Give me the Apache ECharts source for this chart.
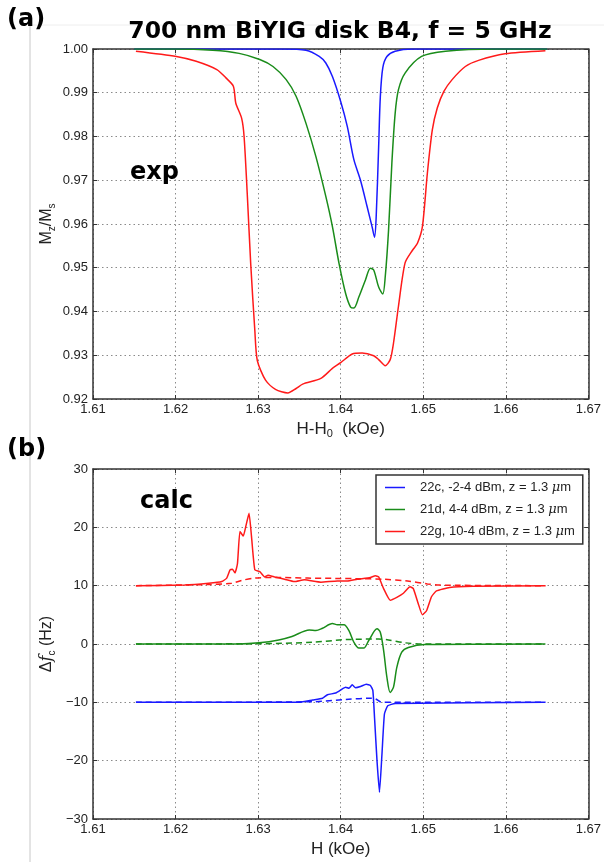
<!DOCTYPE html>
<html>
<head>
<meta charset="utf-8">
<script src="https://cdn.jsdelivr.net/npm/echarts@6/dist/echarts.min.js"></script>
<style>html,body{margin:0;padding:0;background:#fff;}#c{width:604px;height:862px;}</style>
</head>
<body>
<div id="c"></div>
<script>
// ---------- axis ticks ----------
const xTicks = [1.61, 1.62, 1.63, 1.64, 1.65, 1.66, 1.67];
const yTicksTop = [0.92, 0.93, 0.94, 0.95, 0.96, 0.97, 0.98, 0.99, 1.00];
const yTicksBottom = [-30, -20, -10, 0, 10, 20, 30];

// ---------- (a) experiment: [H-H0 (kOe), Mz/Ms] ----------
const expBlue = [[1.615,1.0],[1.630,1.0],[1.633,1.0],[1.6358,0.9997],[1.6374,0.9983],[1.6382,0.9968],[1.639,0.9937],[1.640,0.988],[1.6408,0.9823],[1.6416,0.9747],[1.6424,0.970],[1.6432,0.964],[1.6438,0.9594],[1.6441,0.957],[1.6443,0.9616],[1.6446,0.9777],[1.6448,0.989],[1.6451,0.9957],[1.6456,0.9983],[1.6466,0.9995],[1.6487,1.0],[1.665,1.0]];
const expGreen = [[1.615,1.0],[1.620,1.0],[1.6245,0.9997],[1.6277,0.999],[1.6302,0.9976],[1.6318,0.996],[1.6334,0.993],[1.6346,0.9892],[1.6358,0.983],[1.637,0.9754],[1.6382,0.9663],[1.639,0.9594],[1.6398,0.951],[1.6406,0.9441],[1.6412,0.941],[1.6416,0.9408],[1.6422,0.9433],[1.643,0.9472],[1.6436,0.9499],[1.644,0.9495],[1.6446,0.9456],[1.6451,0.944],[1.6454,0.948],[1.6458,0.9586],[1.6462,0.9739],[1.6466,0.9853],[1.647,0.9907],[1.6478,0.9945],[1.6498,0.9983],[1.6527,0.9995],[1.6587,1.0],[1.665,1.0]];
const expRed = [[1.6152,0.9995],[1.6201,0.9983],[1.6225,0.9972],[1.625,0.9953],[1.6261,0.9934],[1.627,0.9915],[1.6273,0.9876],[1.628,0.9842],[1.6283,0.98],[1.6287,0.9663],[1.6291,0.951],[1.6296,0.9357],[1.6299,0.9288],[1.6309,0.9243],[1.6321,0.9222],[1.6336,0.9214],[1.6346,0.9224],[1.6354,0.9234],[1.6376,0.9247],[1.639,0.927],[1.64,0.9283],[1.6414,0.9303],[1.6426,0.9305],[1.644,0.9299],[1.6446,0.929],[1.6454,0.9276],[1.646,0.929],[1.6464,0.9328],[1.647,0.9412],[1.6478,0.9511],[1.6487,0.954],[1.6493,0.9556],[1.6499,0.9594],[1.6505,0.9716],[1.6511,0.9815],[1.6517,0.9865],[1.6525,0.9903],[1.6535,0.993],[1.6551,0.996],[1.6567,0.9974],[1.6599,0.9989],[1.6648,0.9996]];

// ---------- (b) calculation: [H (kOe), delta f_c (Hz)] ----------
const calcRed = [[1.6152,10.0],[1.6211,10.1],[1.624,10.4],[1.6256,10.7],[1.6262,11.3],[1.6266,12.7],[1.6269,12.8],[1.6272,12.2],[1.6275,13.8],[1.6278,19.3],[1.6282,18.5],[1.6285,20.1],[1.6289,22.4],[1.6292,18.4],[1.6296,12.7],[1.6302,12.4],[1.6308,11.5],[1.6312,11.8],[1.632,11.5],[1.6332,11.1],[1.6344,10.7],[1.6356,11.0],[1.6376,10.6],[1.6396,10.8],[1.6408,10.8],[1.642,11.1],[1.6436,11.4],[1.6442,11.7],[1.6446,11.5],[1.6452,9.5],[1.646,7.5],[1.6468,8.0],[1.6476,8.7],[1.6484,9.8],[1.6488,9.5],[1.6494,6.9],[1.6499,5.0],[1.6504,5.7],[1.651,8.1],[1.6516,9.1],[1.6532,9.7],[1.656,9.9],[1.6648,10.0]];
const calcRedDash = [[1.6152,10.0],[1.624,10.2],[1.6268,10.4],[1.628,10.9],[1.6296,11.3],[1.632,11.4],[1.636,11.3],[1.642,11.2],[1.6452,11.1],[1.6481,10.8],[1.6505,10.3],[1.652,10.1],[1.6648,10.0]];
const calcGreen = [[1.6152,0],[1.6277,0],[1.6301,0.2],[1.6325,0.7],[1.6341,1.3],[1.6362,2.4],[1.637,2.3],[1.6378,2.7],[1.639,3.5],[1.6396,3.3],[1.6404,3.3],[1.641,2.3],[1.6416,0.3],[1.6422,-0.7],[1.6428,-0.7],[1.6434,0.6],[1.6444,2.6],[1.6448,2.0],[1.6452,-1.1],[1.6456,-5.7],[1.646,-8.3],[1.6464,-7.4],[1.6468,-4.0],[1.6474,-1.4],[1.6482,-0.6],[1.6502,-0.1],[1.6648,0]];
const calcGreenDash = [[1.6152,0],[1.6301,0.05],[1.6366,0.3],[1.6406,0.75],[1.6446,0.85],[1.6458,0.7],[1.6478,0.2],[1.6502,0],[1.6648,0]];
const calcBlue = [[1.6152,-10],[1.635,-10],[1.6366,-9.6],[1.6378,-9.3],[1.6384,-8.7],[1.6394,-8.4],[1.6402,-7.7],[1.6406,-7.4],[1.641,-7.6],[1.6414,-7.0],[1.6418,-7.5],[1.6424,-7.3],[1.6431,-6.9],[1.6436,-7.1],[1.6439,-8.0],[1.6441,-12.6],[1.6444,-20.0],[1.6447,-25.4],[1.645,-18.9],[1.6453,-12.0],[1.6457,-10.6],[1.6466,-10.2],[1.6648,-10]];
const calcBlueDash = [[1.6152,-10],[1.6366,-9.9],[1.6406,-9.5],[1.6434,-9.3],[1.6442,-9.4],[1.645,-10],[1.6648,-10]];

const legendNames = ['22c, -2-4 dBm, z = 1.3 μm', '21d, 4-4 dBm, z = 1.3 μm', '22g, 10-4 dBm, z = 1.3 μm'];

const BLUE = '#1a1aff', GREEN = '#1a8c1a', RED = '#ff1a1a';
const FRAME = '#333';
const TICKF = 'Liberation Sans, Arial, sans-serif';

function xAxisPair(grid, name) {
  return [{
    type: 'value', gridIndex: grid, min: xTicks[0], max: xTicks[xTicks.length-1], interval: 0.01,
    position: 'bottom',
    axisLine: {show: true, onZero: false, lineStyle: {color: FRAME, width: 1.5}},
    axisTick: {show: true, inside: true, length: 4, lineStyle: {color: FRAME}},
    axisLabel: {show: true, margin: 4, color: '#222', fontSize: 13, fontFamily: TICKF, formatter: v => v.toFixed(2)},
    splitLine: {show: true, lineStyle: {type: [1.5, 3], color: '#8a8a8a', width: 1}},
    name: name, nameLocation: 'middle', nameGap: 20,
    nameTextStyle: {color: '#222', fontSize: 17, fontFamily: TICKF,
      rich: {m: {fontSize: 17, fontFamily: TICKF, color: '#222', lineHeight: 20},
             s: {fontSize: 11, fontFamily: TICKF, color: '#222', lineHeight: 12, verticalAlign: 'bottom'}}}
  }, {
    type: 'value', gridIndex: grid, min: xTicks[0], max: xTicks[xTicks.length-1], interval: 0.01,
    position: 'top',
    axisLine: {show: true, onZero: false, lineStyle: {color: FRAME, width: 1.5}},
    axisTick: {show: true, inside: true, length: 4, lineStyle: {color: FRAME}},
    axisLabel: {show: false}, splitLine: {show: false}
  }];
}
function yAxisPair(grid, ticks, fmt, name, rich) {
  const mn = ticks[0], mx = ticks[ticks.length-1], iv = ticks[1]-ticks[0];
  return [{
    type: 'value', gridIndex: grid, min: mn, max: mx, interval: iv, position: 'left',
    axisLine: {show: true, onZero: false, lineStyle: {color: FRAME, width: 1.5}},
    axisTick: {show: true, inside: true, length: 4, lineStyle: {color: FRAME}},
    axisLabel: {show: true, margin: 5, color: '#222', fontSize: 13, fontFamily: TICKF, formatter: fmt},
    splitLine: {show: true, lineStyle: {type: [1.5, 3], color: '#8a8a8a', width: 1}},
    name: name, nameLocation: 'middle', nameGap: 36, nameRotate: 90, nameMoveOverlap: false,
    nameTextStyle: {color: '#222', fontSize: 16, fontFamily: TICKF, rich: rich}
  }, {
    type: 'value', gridIndex: grid, min: mn, max: mx, interval: iv, position: 'right',
    axisLine: {show: true, onZero: false, lineStyle: {color: FRAME, width: 1.5}},
    axisTick: {show: true, inside: true, length: 4, lineStyle: {color: FRAME}},
    axisLabel: {show: false}, splitLine: {show: false}
  }];
}

const richY = {
  m: {fontSize: 16, fontFamily: TICKF, color: '#222', lineHeight: 20},
  i: {fontSize: 16, fontFamily: 'DejaVu Serif, serif', fontStyle: 'italic', color: '#222', lineHeight: 20},
  s: {fontSize: 10, fontFamily: TICKF, color: '#222', lineHeight: 12, verticalAlign: 'bottom'}
};

function line(name, data, color, xi, yi, dashed, sm) {
  return {
    name: name, type: 'line', data: data, xAxisIndex: xi, yAxisIndex: yi,
    showSymbol: false, symbol: 'none', smooth: sm,
    lineStyle: {color: color, width: 1.5, type: dashed ? [6, 4] : 'solid'},
    itemStyle: {color: color}, z: 3
  };
}

const chart = echarts.init(document.getElementById('c'), null, {renderer: 'canvas'});
chart.setOption({
  animation: false,
  backgroundColor: '#fff',
  grid: [
    {left: 93, right: 14, top: 49, height: 350, containLabel: false},
    {left: 93, right: 14, top: 469, height: 350, containLabel: false}
  ],
  xAxis: [...xAxisPair(0, '{m|H-H}{s|0}{m|  (kOe)}'), ...xAxisPair(1, '{m|H (kOe)}')],
  yAxis: [
    ...yAxisPair(0, yTicksTop, v => v.toFixed(2), '{m|M}{s|z}{m|/M}{s|s}', richY),
    ...yAxisPair(1, yTicksBottom, v => (v < 0 ? '\u2212' + Math.abs(v) : '' + v), '{m|Δ}{i|f}{s|c}{m| (Hz)}', richY)
  ],
  legend: {
    data: legendNames, orient: 'vertical', left: 376, top: 475,
    padding: [6, 8, 6, 9], itemGap: 9, itemWidth: 20, itemHeight: 1.5, icon: 'rect',
    borderColor: '#333', borderWidth: 1.5, backgroundColor: '#fff',
    textStyle: {fontSize: 13, fontFamily: TICKF, color: '#222', padding: [0, 0, 0, 10],
      rich: {i: {fontSize: 13, fontFamily: 'DejaVu Serif, serif', fontStyle: 'italic', color: '#222'}}},
    formatter: n => n.replace('μ', '{i|μ}')
  },
  graphic: [
    {type: 'line', shape: {x1: 30, y1: 25, x2: 30, y2: 862}, style: {stroke: '#c8c8c8', lineWidth: 1}, z: -1},
    {type: 'line', shape: {x1: 30, y1: 25, x2: 604, y2: 25}, style: {stroke: '#eeeeee', lineWidth: 1}, z: -1},
    {type: 'text', left: 7, top: 8, style: {text: '(a)', font: 'bold 24px DejaVu Sans', fill: '#000'}, z: 10},
    {type: 'text', left: 7, top: 438, style: {text: '(b)', font: 'bold 24px DejaVu Sans', fill: '#000'}, z: 10},
    {type: 'text', x: 340, y: 32, style: {text: '700 nm BiYIG disk B4, f = 5 GHz', font: 'bold 23.5px DejaVu Sans', fill: '#000', textAlign: 'center', textVerticalAlign: 'middle'}, z: 10},
    {type: 'text', x: 130, y: 173, style: {text: 'exp', font: 'bold 24px DejaVu Sans', fill: '#000', textVerticalAlign: 'middle'}, z: 10},
    {type: 'text', x: 140, y: 502, style: {text: 'calc', font: 'bold 24px DejaVu Sans', fill: '#000', textVerticalAlign: 'middle'}, z: 10}
  ],
  series: [
    line('expBlue', expBlue, BLUE, 0, 0, false, 0.3),
    line('expGreen', expGreen, GREEN, 0, 0, false, 0.3),
    line('expRed', expRed, RED, 0, 0, false, 0.25),
    line(legendNames[0], calcBlue, BLUE, 2, 2, false, 0.15),
    line('calcBlueDash', calcBlueDash, BLUE, 2, 2, true, 0.3),
    line(legendNames[1], calcGreen, GREEN, 2, 2, false, 0.3),
    line('calcGreenDash', calcGreenDash, GREEN, 2, 2, true, 0.3),
    line(legendNames[2], calcRed, RED, 2, 2, false, 0.15),
    line('calcRedDash', calcRedDash, RED, 2, 2, true, 0.3)
  ]
});
</script>
</body>
</html>
